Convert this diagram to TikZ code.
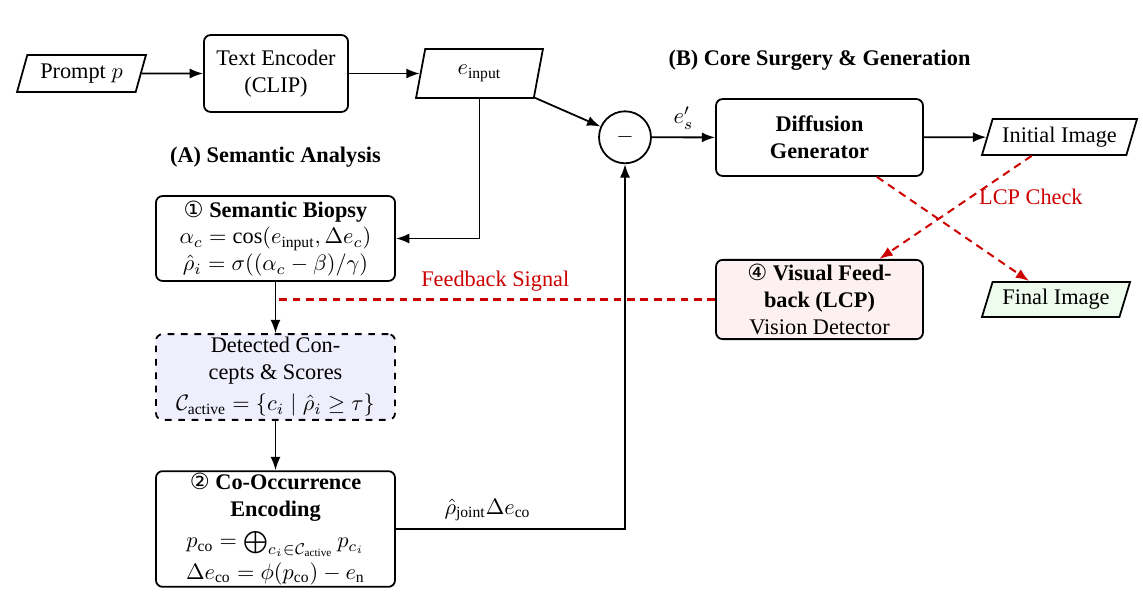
\documentclass[tikz,border=0pt]{standalone}
\usepackage{amsmath}
\usepackage{fontspec}
\IfFontExistsTF{LiberationSerif-Regular.ttf}{%
  \setmainfont{LiberationSerif}[Extension=.ttf, UprightFont=*-Regular, BoldFont=*-Bold,
    ItalicFont=*-Italic, BoldItalicFont=*-BoldItalic]}{%
  \setmainfont{Liberation Serif}}
\newfontfamily\djv{DejaVu Sans}
\usetikzlibrary{shapes.geometric,arrows.meta}
\definecolor{fbred}{RGB}{204,0,0}
\definecolor{dcblue}{RGB}{238,238,252}
\definecolor{vfpink}{RGB}{253,240,240}
\definecolor{fingreen}{RGB}{238,252,238}
\newcommand{\circnum}[1]{{\djv\mdseries #1}}
\tikzset{
  box/.style={draw, rounded corners=3pt, line width=0.8pt, align=center, inner sep=2pt},
  para/.style={draw, trapezium, trapezium left angle=70, trapezium right angle=110,
    trapezium stretches body, line width=0.8pt, inner sep=2pt},
  arr/.style={-{Latex[length=6pt,width=4.5pt]}, line width=0.8pt},
  fb/.style={draw=fbred, text=fbred, dash pattern=on 3.5pt off 2.5pt, line width=0.9pt},
  head/.style={font=\bfseries}
}
\begin{document}
\begin{tikzpicture}[x=0.4484pt,y=-0.4484pt]
\useasboundingbox (0,0) rectangle (1143,606);
% nodes
\node[para, minimum width=57.8pt, minimum height=16.6pt] (prompt) at (81.5,73.5) {Prompt $p$};
\node[box, minimum width=64.6pt, minimum height=34.5pt] (te) at (276,73.5) {Text Encoder\\(CLIP)};
\node[para, minimum width=56.9pt, minimum height=22pt] (ein) at (479.5,73.5) {$e_{\mathrm{input}}$};
\node[circle, draw, line width=0.8pt, minimum size=23.3pt, inner sep=0pt] (minus) at (625,137.3) {$-$};
\node[box, minimum width=92.8pt, minimum height=34.5pt] (gen) at (819.5,137.5) {\textbf{Diffusion}\\\textbf{Generator}};
\node[para, minimum width=69.5pt, minimum height=16.1pt] (init) at (1059.5,137) {Initial Image};
\node[box, fill=vfpink, minimum width=92.8pt, minimum height=35.4pt] (vf) at (819.5,299.5) {\circnum{④} \textbf{Visual Feed-}\\\textbf{back (LCP)}\\Vision Detector};
\node[para, fill=fingreen, minimum width=66.4pt, minimum height=15.7pt] (final) at (1056,299.5) {Final Image};
\node[box, minimum width=107.2pt, minimum height=38.1pt] (sb) at (275.5,238.5) {\circnum{①} \textbf{Semantic Biopsy}\\$\alpha_c = \cos(e_{\mathrm{input}}, \Delta e_c)$\\$\hat{\rho}_i = \sigma((\alpha_c-\beta)/\gamma)$};
\node[box, dashed, fill=dcblue, minimum width=107.2pt, minimum height=37.7pt, inner ysep=1.5pt] (dc) at (275.5,377) {Detected Con-\\cepts \& Scores\\[2pt]$\mathcal{C}_{\mathrm{active}} = \{c_i \mid \hat{\rho}_i \geq \tau\}$};
\node[box, minimum width=107.2pt, minimum height=51.1pt, inner ysep=1pt] (co) at (275.5,529) {\circnum{②} \textbf{Co-Occurrence}\\\textbf{Encoding}\\[2pt]$p_{\mathrm{co}} = \bigoplus_{c_i\in\mathcal{C}_{\mathrm{active}}} p_{c_i}$\\[2pt]$\Delta e_{\mathrm{co}} = \phi(p_{\mathrm{co}}) - e_{\mathrm{n}}$};
\node[head] (hA) at (275.5,157) {(A) Semantic Analysis};
\node[head] (hB) at (819.5,60) {(B) Core Surgery \& Generation};
% connectors
\draw[arr] (prompt) -- (te);
\draw[arr] (te) -- (ein);
\draw[arr] (ein) -- (minus);
\draw[arr] (ein.south) |- (sb.east);
\draw[arr] (minus) -- node[above] {$e'_s$} (gen);
\draw[arr] (gen) -- (init);
\draw[arr] (sb) -- (dc);
\draw[arr] (dc) -- (co);
\draw[arr] (co.east) -| node[above, pos=0.2] {$\hat{\rho}_{\mathrm{joint}}\Delta e_{\mathrm{co}}$} (minus.south);
\draw[fb, -{Latex[length=6pt,width=4.5pt]}] (gen) -- (final);
\draw[fb, -{Latex[length=6pt,width=4.5pt]}] (init) -- node[pos=0.4, right] {LCP Check} (vf);
\draw[fb] (vf.west) -- node[above] {Feedback Signal} (vf.west -| sb.south);
\end{tikzpicture}
\end{document}
